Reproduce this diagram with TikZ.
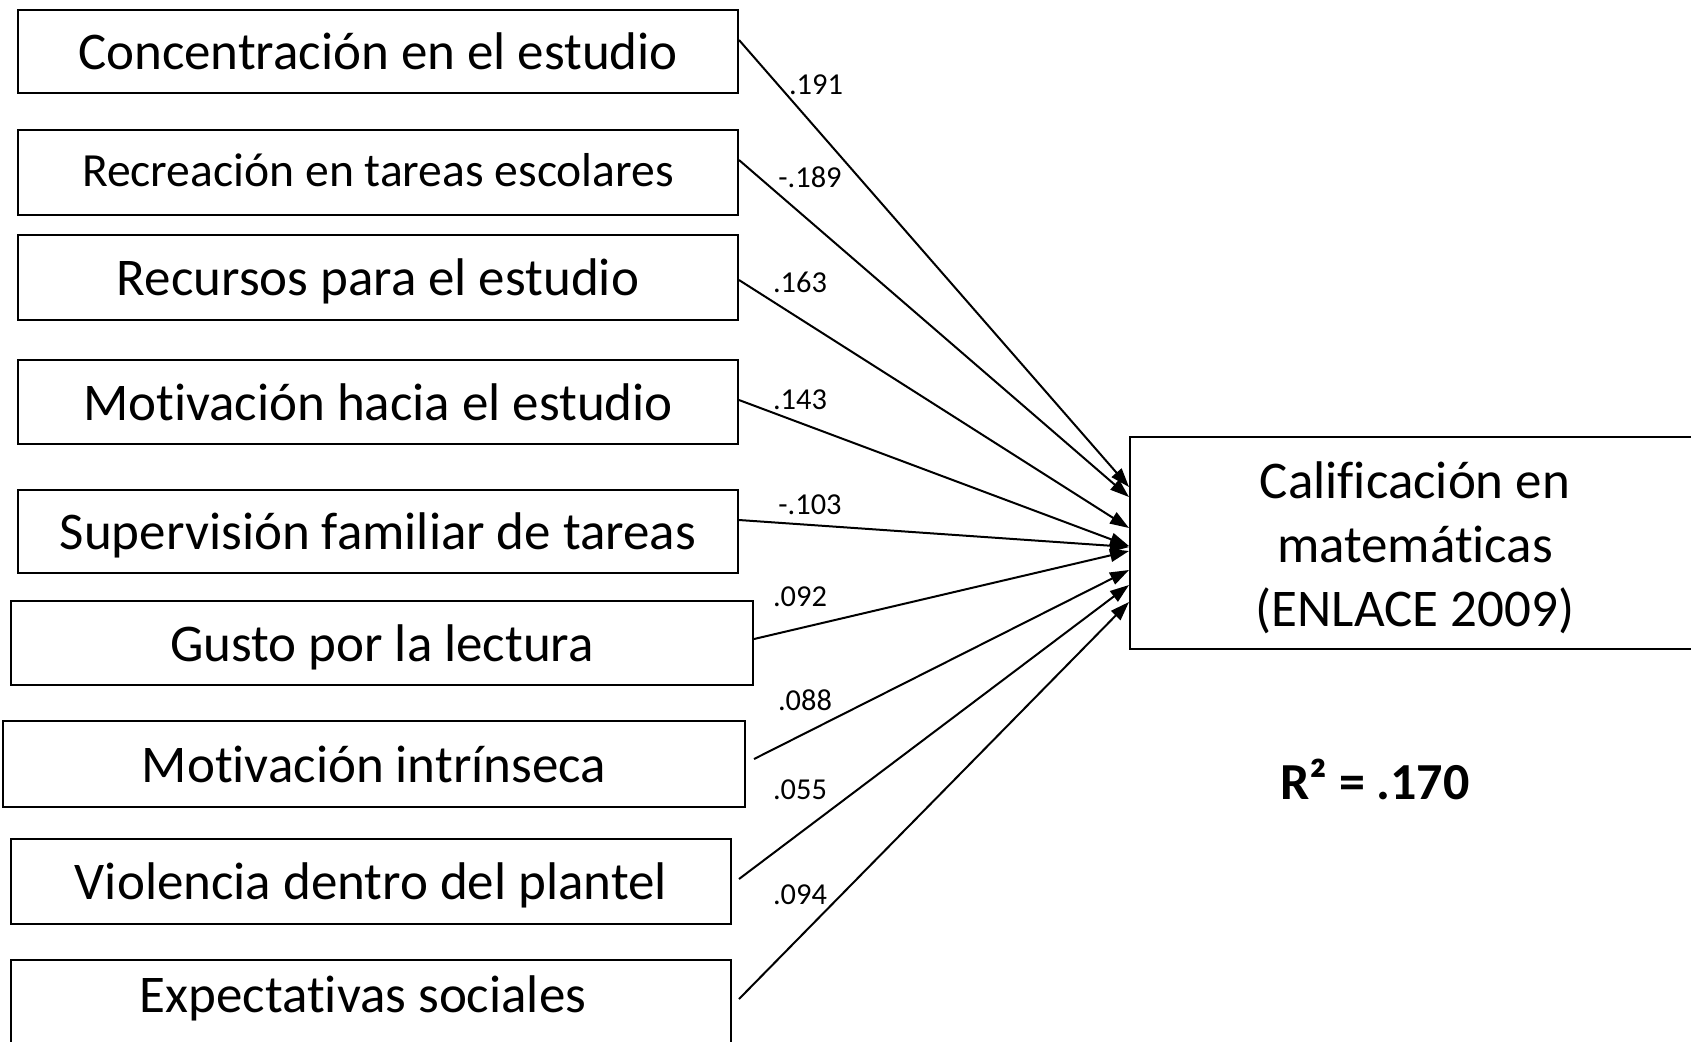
\documentclass[tikz,border=0pt]{standalone}
\usepackage{fontspec}
\setmainfont{Carlito}[Ligatures=NoCommon]
\usetikzlibrary{arrows.meta}
\begin{document}
\begin{tikzpicture}[x=0.5pt,y=-0.5pt,
  box/.style={draw, line width=1pt, inner sep=0pt, align=center, text depth=0pt,
    font=\fontsize{26.5}{31.5}\selectfont},
  lbl/.style={inner sep=0pt, font=\fontsize{26.5}{32}\selectfont},
  coef/.style={inner sep=0pt, font=\fontsize{15.2}{18}\selectfont},
  arr/.style={line width=1pt, -{Triangle[length=9.5pt,width=6.5pt]}}]
\useasboundingbox (0,0) rectangle (1691,1041);
% predictor boxes
\node[box, minimum width=360pt, minimum height=41.5pt] (b1) at (378,51.5) {Concentración en el estudio};
\node[box, minimum width=360pt, minimum height=42.5pt, text depth=3pt, font=\fontsize{23.8}{28}\selectfont] (b2) at (378,172.5) {Recreación en tareas escolares};
\node[box, minimum width=360pt, minimum height=42.5pt] (b3) at (378,277.5) {Recursos para el estudio};
\node[box, minimum width=360pt, minimum height=42pt] (b4) at (378,402) {Motivación hacia el estudio};
\node[box, minimum width=360pt, minimum height=41.5pt] (b5) at (378,531.5) {Supervisión familiar de tareas};
\node[box, minimum width=371pt, minimum height=42pt] (b6) at (382,643) {Gusto por la lectura};
\node[box, minimum width=371pt, minimum height=43pt] (b7) at (374,764) {Motivación intrínseca};
\node[box, minimum width=360pt, minimum height=42.5pt] (b8) at (371,881.5) {Violencia dentro del plantel};
\node[box, minimum width=360pt, minimum height=45pt] (b9) at (371,1005) {};
\node[lbl, text depth=0pt] (b9t) at (363,994) {Expectativas sociales};
% outcome box
\node[box, minimum width=285pt, minimum height=106pt] (t) at (1415,543) {};
\node[lbl, align=center] (tt) at (1415,548) {Calificación en\\matemáticas\\(ENLACE 2009)};
\node[inner sep=0pt, font=\bfseries\fontsize{26}{31}\selectfont] (r2) at (1375,779) {R² = .170};
% paths
\draw[arr] ([yshift=5.75pt]b1.east) -- ([yshift=28pt]t.west);
\draw[arr] ([yshift=6.25pt]b2.east) -- ([yshift=23pt]t.west);
\draw[arr] ([yshift=-1.25pt]b3.east) -- ([yshift=7.5pt]t.west);
\draw[arr] ([yshift=1pt]b4.east) -- ([yshift=-1.5pt]t.west);
\draw[arr] ([yshift=5.75pt]b5.east) -- ([yshift=-2pt]t.west);
\draw[arr] ([yshift=2pt]b6.east) -- ([yshift=-4pt]t.west);
\draw[arr] ([xshift=4pt,yshift=2.5pt]b7.east) -- ([yshift=-13.5pt]t.west);
\draw[arr] ([xshift=3.5pt,yshift=1.25pt]b8.east) -- ([yshift=-21pt]t.west);
\draw[arr] ([xshift=3.5pt,yshift=3pt]b9.east) -- ([yshift=-29.5pt]t.west);
% coefficients
\node[coef] (c1) at (816,85) {.191};
\node[coef] (c2) at (810,177) {-.189};
\node[coef] (c3) at (800,282) {.163};
\node[coef] (c4) at (800,400) {.143};
\node[coef] (c5) at (810,505) {-.103};
\node[coef] (c6) at (800,597) {.092};
\node[coef] (c7) at (805,700) {.088};
\node[coef] (c8) at (800,790) {.055};
\node[coef] (c9) at (800,895) {.094};
\end{tikzpicture}
\end{document}
